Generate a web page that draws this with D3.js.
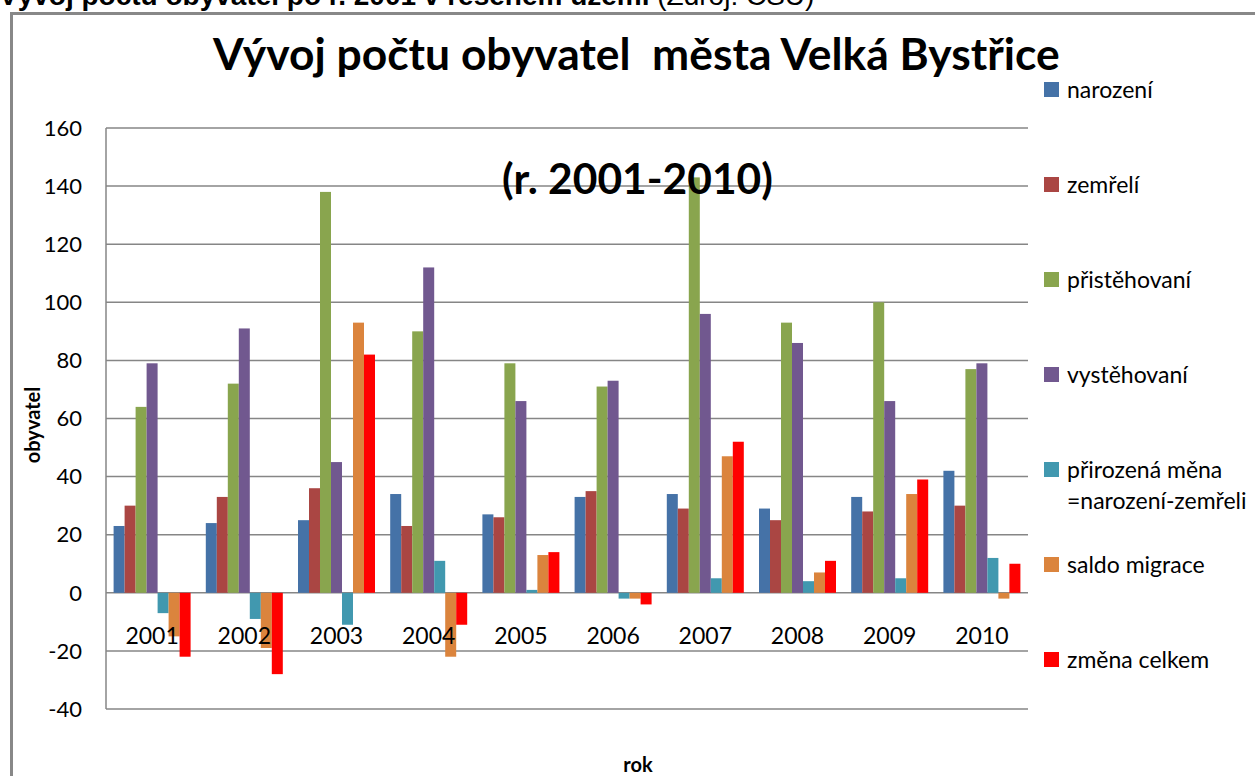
<!DOCTYPE html>
<meta charset="utf-8">
<body style="margin:0;background:#fff">
<style>
  text { font-family: Lato, "Open Sans", sans-serif; fill: #000; }
  .grid line { stroke: #868686; stroke-width: 1.5px; }
</style>
<script src="https://d3js.org/d3.v7.min.js"></script>
<script>

var width = 1255, height = 776;

// data
var years = ["2001","2002","2003","2004","2005","2006","2007","2008","2009","2010"];
var narozeni      = [23, 24, 25, 34, 27, 33, 34, 29, 33, 42];
var zemreli       = [30, 33, 36, 23, 26, 35, 29, 25, 28, 30];
var pristehovani  = [64, 72, 138, 90, 79, 71, 143, 93, 100, 77];
var vystehovani   = [79, 91, 45, 112, 66, 73, 96, 86, 66, 79];
var prirozenaMena = [-7, -9, -11, 11, 1, -2, 5, 4, 5, 12];
var saldoMigrace  = [-15, -19, 93, -22, 13, -2, 47, 7, 34, -2];
var zmenaCelkem   = [-22, -28, 82, -11, 14, -4, 52, 11, 39, 10];
var yTicks = [-40, -20, 0, 20, 40, 60, 80, 100, 120, 140, 160];

var seriesNames = [["narození"], ["zemřelí"], ["přistěhovaní"], ["vystěhovaní"],
  ["přirozená měna", "=narození-zemřeli"], ["saldo migrace"], ["změna celkem"]];
var seriesValues = [narozeni, zemreli, pristehovani, vystehovani, prirozenaMena, saldoMigrace, zmenaCelkem];
var colors = ["#4572A7", "#AA4643", "#89A54E", "#71588F", "#4198AF", "#DB843D", "#FF0000"];

var plot = {left: 106, right: 1028, top: 128, bottom: 709};

var svg = d3.select("body").append("svg")
  .attr("width", width)
  .attr("height", height);

// caption above the chart, mostly cut off by the page top (as in the source)
var cap = svg.append("text")
  .attr("x", -1).attr("y", 5)
  .style("font-family", "'Liberation Sans', Arial, sans-serif")
  .style("font-size", "28px");
cap.append("tspan").style("font-weight", "bold").text("Vývoj počtu obyvatel po r. 2001 v řešeném území");
cap.append("tspan").text(" (Zdroj: ČSÚ)");

// chart frame
svg.append("rect")
  .attr("x", 11.5).attr("y", 13.5)
  .attr("width", 1400).attr("height", 900)
  .attr("fill", "none")
  .attr("stroke", "#888")
  .attr("stroke-width", 3);

var y = d3.scaleLinear().domain([-40, 160]).range([plot.bottom, plot.top]);
var x0 = d3.scaleBand().domain(years).range([plot.left, plot.right]);
var gap = 7.6;
var x1 = d3.scaleBand().domain(d3.range(seriesValues.length))
  .range([gap, x0.bandwidth() - gap]);

// gridlines
svg.append("g").attr("class", "grid")
  .selectAll("line")
  .data(yTicks)
  .enter().append("line")
  .attr("x1", plot.left).attr("x2", plot.right)
  .attr("y1", function(d) { return y(d); })
  .attr("y2", function(d) { return y(d); });

svg.append("line")
  .attr("x1", plot.left).attr("x2", plot.left)
  .attr("y1", plot.top).attr("y2", plot.bottom)
  .attr("stroke", "#868686").attr("stroke-width", 1.5);

// y tick labels
svg.append("g").selectAll("text")
  .data(yTicks)
  .enter().append("text")
  .attr("x", 82)
  .attr("y", function(d) { return y(d); })
  .attr("dy", "0.35em")
  .attr("text-anchor", "end")
  .style("font-size", "22px")
  .text(function(d) { return d; });

// bars
var groups = svg.append("g").selectAll("g")
  .data(years)
  .enter().append("g")
  .attr("transform", function(d) { return "translate(" + x0(d) + ",0)"; });

groups.selectAll("rect")
  .data(function(d, i) { return seriesValues.map(function(s, k) { return {k: k, v: s[i]}; }); })
  .enter().append("rect")
  .attr("x", function(d) { return x1(d.k); })
  .attr("width", x1.bandwidth())
  .attr("y", function(d) { return y(Math.max(0, d.v)); })
  .attr("height", function(d) { return Math.abs(y(d.v) - y(0)); })
  .attr("fill", function(d) { return colors[d.k]; });

// category labels
svg.append("g").selectAll("text")
  .data(years)
  .enter().append("text")
  .attr("x", function(d) { return x0(d) + x0.bandwidth() / 2; })
  .attr("y", 644)
  .attr("text-anchor", "middle")
  .style("font-size", "23px")
  .text(function(d) { return d; });

// scale a text's font so it spans a given width
function fit(sel, w) {
  sel.style("font-size", "100px");
  var len = sel.node().getComputedTextLength();
  sel.style("font-size", (100 * w / len) + "px");
}

var title = svg.append("text")
  .attr("x", 213).attr("y", 70)
  .style("font-weight", "bold")
  .style("white-space", "pre")
  .text("Vývoj počtu obyvatel  města Velká Bystřice");
fit(title, 847);

var sub = svg.append("text")
  .attr("x", 502).attr("y", 194)
  .style("font-weight", "bold")
  .text("(r. 2001-2010)");
fit(sub, 271);

// axis titles
svg.append("text")
  .attr("transform", "translate(40,425) rotate(-90)")
  .attr("text-anchor", "middle")
  .style("font-weight", "bold")
  .style("font-size", "20px")
  .text("obyvatel");

svg.append("text")
  .attr("x", 638).attr("y", 772)
  .attr("text-anchor", "middle")
  .style("font-weight", "bold")
  .style("font-size", "20px")
  .text("rok");

// legend
var legend = svg.append("g").selectAll("g")
  .data(seriesNames)
  .enter().append("g")
  .attr("transform", function(d, i) { return "translate(1044," + (89.5 + 95 * i) + ")"; });

legend.append("rect")
  .attr("x", 0).attr("y", -7.5)
  .attr("width", 15).attr("height", 15)
  .attr("fill", function(d, i) { return colors[i]; });

legend.append("text")
  .attr("x", 23)
  .style("font-size", "23px")
  .selectAll("tspan")
  .data(function(d) { return d; })
  .enter().append("tspan")
  .attr("x", 23)
  .attr("y", function(d, j) { return j * 31; })
  .attr("dy", "0.35em")
  .text(function(d) { return d; });

</script>
</body>
